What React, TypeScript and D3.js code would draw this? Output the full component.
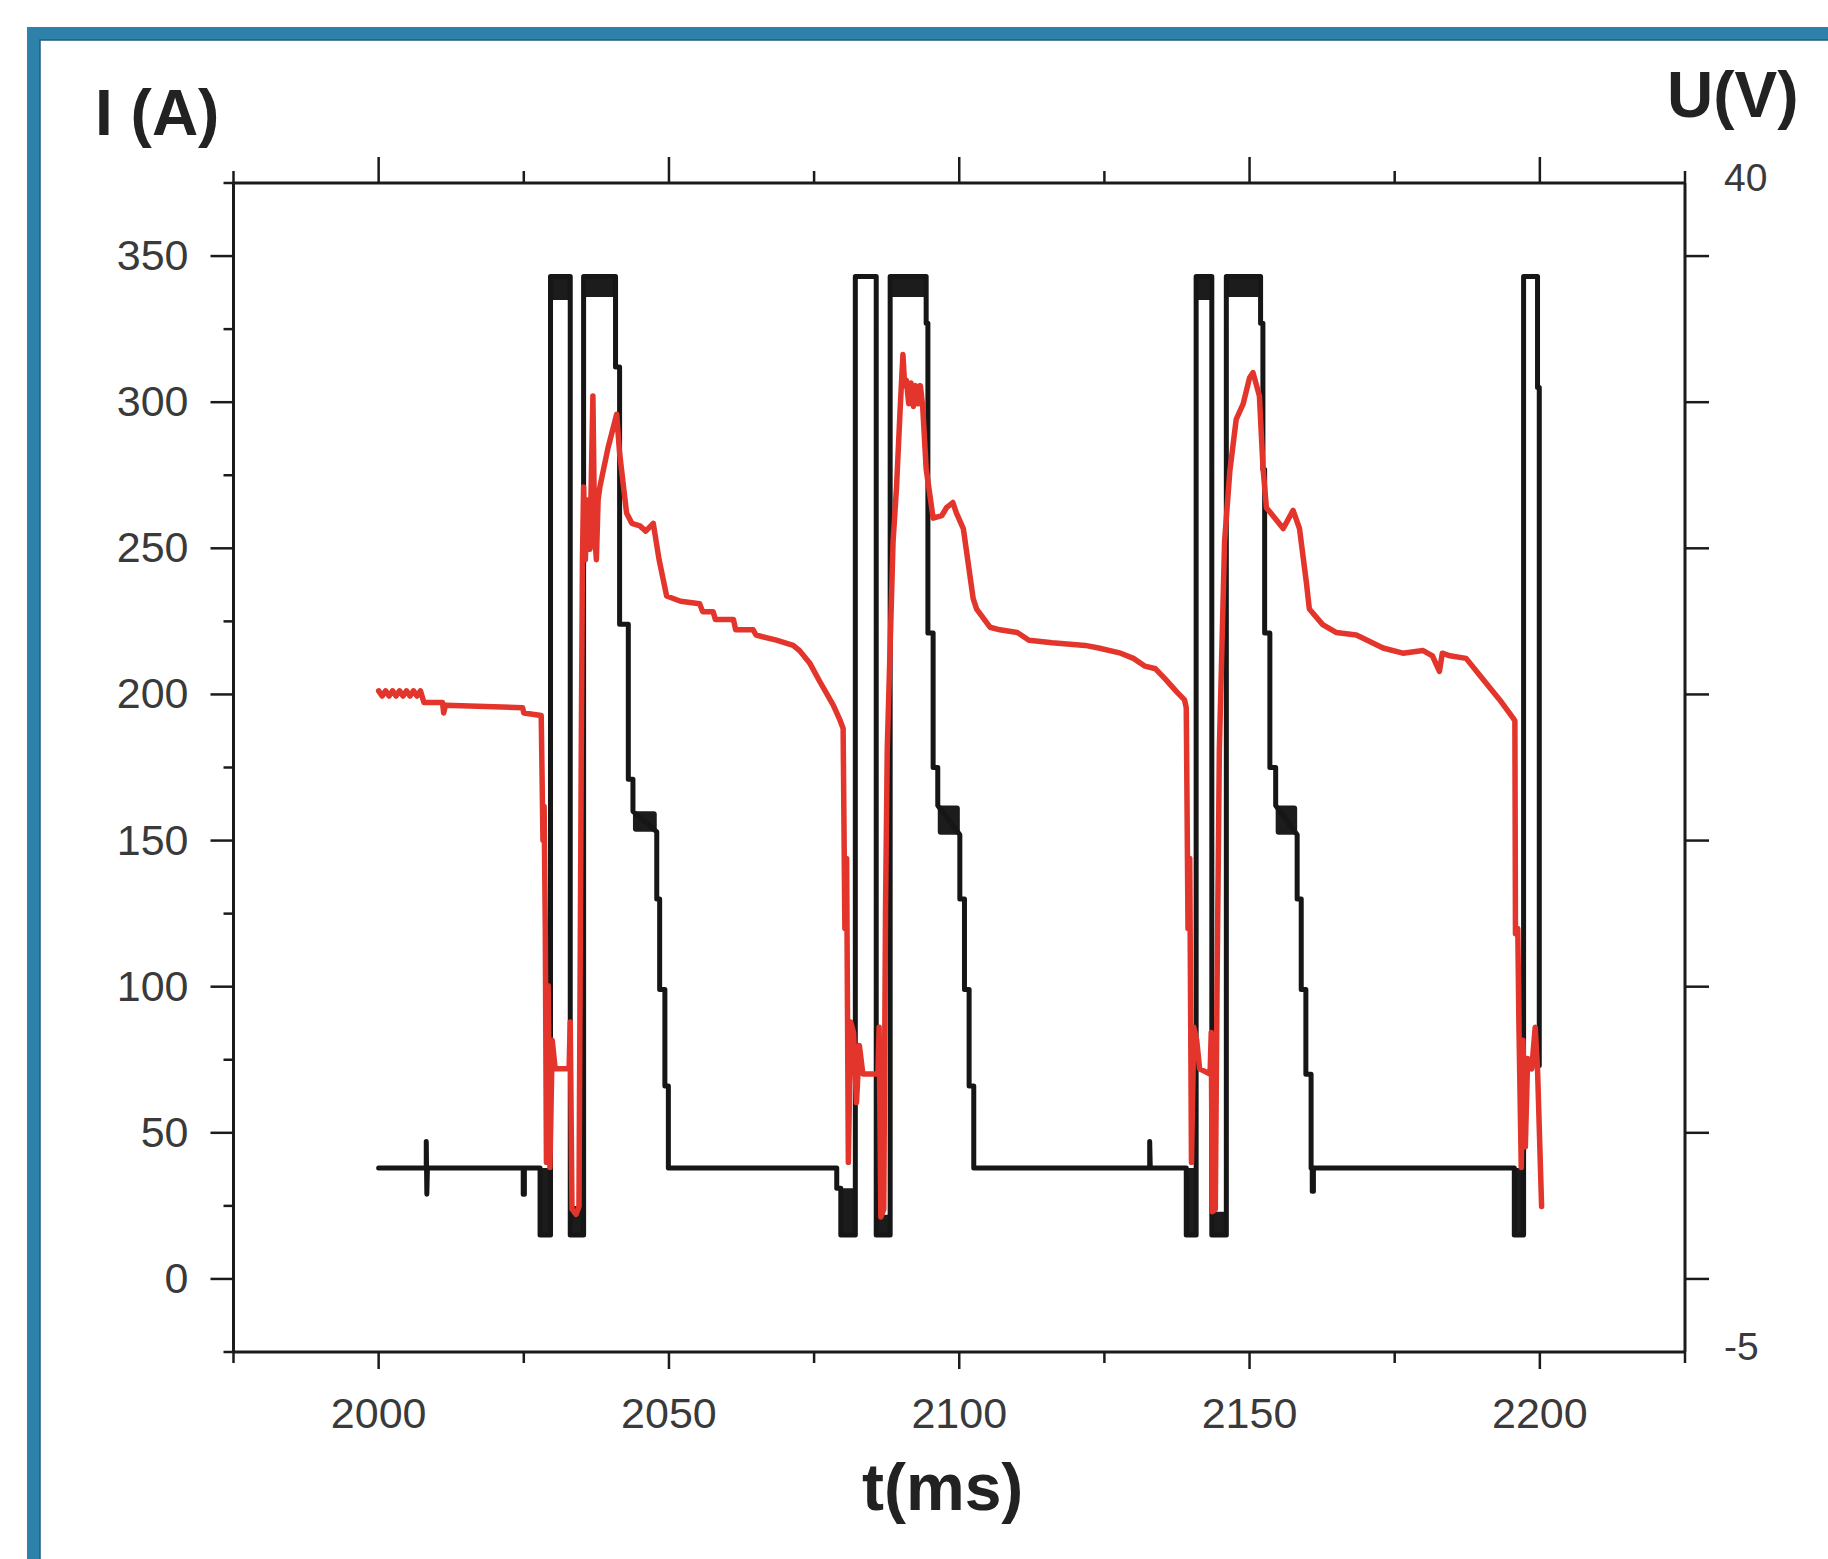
import React from 'react';
import * as d3 from 'd3';

// ---------- DATA ----------
// Time axis (ms)
const xMajorTicks = [2000, 2050, 2100, 2150, 2200];
const xMinorTicks = [1975, 2025, 2075, 2125, 2175, 2225];
// Left axis: current I (A)
const iMajorTicks = [0, 50, 100, 150, 200, 250, 300, 350];
const iMinorTicks = [-25, 25, 75, 125, 175, 225, 275, 325, 375];
// Right axis: voltage U (V), only the end values are labelled
const uTickLabels = [40, -5];

// Current I (A), black trace: [t (ms), I (A)]
const currentPoints: [number, number][] = [
  [2000, 38], [2008.2, 38], [2008.2, 47], [2008.3, 29], [2008.4, 38],
  [2024.9, 38], [2024.9, 29], [2025.1, 29], [2025.1, 38],
  [2027.8, 38], [2027.8, 15], [2029.6, 15], [2029.6, 343], [2033.0, 343], [2033.0, 15],
  [2035.3, 15], [2035.3, 343], [2040.8, 343], [2040.8, 312], [2041.5, 312], [2041.5, 224],
  [2043.0, 224], [2043.0, 171], [2043.8, 171], [2043.8, 160], [2047.9, 153], [2047.9, 130],
  [2048.4, 130], [2048.4, 99], [2049.3, 99], [2049.3, 66], [2049.9, 66], [2049.9, 38],
  [2078.9, 38], [2078.9, 31], [2079.6, 31], [2079.6, 15], [2082.1, 15], [2082.1, 343],
  [2085.7, 343], [2085.7, 15], [2088.1, 15], [2088.1, 343], [2094.3, 343], [2094.3, 327],
  [2094.6, 327], [2094.6, 221], [2095.5, 221], [2095.5, 175], [2096.3, 175], [2096.3, 162],
  [2100.1, 152], [2100.1, 130], [2100.9, 130], [2100.9, 99], [2101.7, 99], [2101.7, 66],
  [2102.5, 66], [2102.5, 38], [2132.8, 38], [2132.8, 47], [2132.9, 38],
  [2139.1, 38], [2139.1, 15], [2140.8, 15], [2140.8, 343], [2143.5, 343], [2143.5, 15],
  [2146.0, 15], [2146.0, 343], [2151.9, 343], [2151.9, 327], [2152.3, 327], [2152.3, 277],
  [2152.6, 277], [2152.6, 221], [2153.5, 221], [2153.5, 175], [2154.5, 175], [2154.5, 162],
  [2158.2, 152], [2158.2, 130], [2158.9, 130], [2158.9, 99], [2159.7, 99], [2159.7, 70],
  [2160.6, 70], [2160.6, 38], [2160.8, 38], [2160.8, 30], [2161.0, 30], [2161.0, 38],
  [2195.6, 38], [2195.6, 15], [2197.2, 15], [2197.2, 343], [2199.6, 343], [2199.6, 305],
  [2199.9, 305], [2199.9, 73],
];

// Dense-noise regions of the current trace: [t0, t1, Ilow, Ihigh]
const currentBands: [number, number, number, number][] = [
  [2027.8, 2029.7, 15, 38],
  [2029.5, 2033.1, 335, 343.5],
  [2032.9, 2035.4, 15, 25],
  [2035.2, 2040.9, 336, 343.5],
  [2043.8, 2047.9, 153, 160],
  [2079.6, 2082.1, 15, 31],
  [2085.7, 2088.2, 15, 22],
  [2088.0, 2094.4, 336, 343.5],
  [2096.3, 2100.1, 152, 162],
  [2139.1, 2140.9, 15, 38],
  [2140.7, 2143.6, 335, 343.5],
  [2143.4, 2146.0, 15, 23],
  [2145.9, 2151.9, 336, 343.5],
  [2154.5, 2158.2, 152, 162],
  [2195.6, 2197.2, 15, 38],
];

// Voltage U (V), red trace: [t (ms), U (V)]
const voltagePoints: [number, number][] = [
  [2000, 20.45], [2000.6, 20.25], [2001.2, 20.45], [2001.8, 20.25], [2002.4, 20.45], [2003.0, 20.25],
  [2003.6, 20.45], [2004.2, 20.25], [2004.8, 20.45], [2005.4, 20.25], [2006.0, 20.45], [2006.6, 20.25],
  [2007.2, 20.45], [2007.8, 20.0],
  [2011.0, 20.0], [2011.2, 19.6], [2011.5, 19.9], [2024.8, 19.8], [2025.0, 19.6], [2028.0, 19.5],
  [2028.3, 14.7], [2028.5, 16.0], [2028.7, 11.3], [2028.9, 2.3], [2029.2, 9.1], [2029.5, 2.1],
  [2029.9, 7.0], [2030.4, 5.9], [2032.8, 5.9], [2033.0, 7.7], [2033.3, 0.5], [2034.0, 0.3],
  [2034.5, 0.6], [2034.9, 18.2], [2035.1, 25.5], [2035.3, 28.3], [2035.6, 25.5], [2036.0, 27.8],
  [2036.4, 25.9], [2036.9, 31.8], [2037.2, 26.5], [2037.5, 25.5], [2037.8, 27.8], [2038.1, 28.3],
  [2039.5, 29.8], [2041.0, 31.1], [2041.5, 29.6], [2042.7, 27.3], [2043.6, 26.9], [2045.0, 26.8],
  [2046.0, 26.6], [2047.3, 26.9], [2048.3, 25.5], [2049.6, 24.1], [2052.0, 23.9], [2055.3, 23.8],
  [2055.8, 23.5], [2057.6, 23.5], [2058.0, 23.2], [2061.1, 23.2], [2061.5, 22.8], [2064.5, 22.8],
  [2065.0, 22.6], [2068.5, 22.4], [2071.4, 22.2], [2072.5, 22.0], [2074.3, 21.5], [2076.0, 20.8],
  [2078.3, 19.9], [2079.5, 19.3], [2080.0, 19.0],
  [2080.3, 11.3], [2080.6, 14.0], [2080.9, 2.3], [2081.3, 7.7], [2081.8, 7.3], [2082.3, 4.6],
  [2082.8, 6.8], [2083.4, 5.7], [2086.0, 5.7], [2086.2, 7.5], [2086.5, 0.2], [2087.0, 0.5],
  [2087.3, 12.0], [2087.6, 18.2], [2088.6, 26.2], [2089.2, 28.3], [2089.8, 31.2], [2090.3, 33.4],
  [2090.6, 32.2], [2090.9, 32.4], [2091.3, 31.5], [2091.7, 32.3], [2092.1, 31.4], [2092.5, 32.2],
  [2092.9, 31.5], [2093.3, 32.2], [2093.7, 31.4], [2094.3, 29.0], [2095.5, 27.1], [2097.0, 27.2],
  [2097.8, 27.5], [2098.9, 27.7], [2099.5, 27.3], [2100.7, 26.7], [2102.4, 24.0], [2103.0, 23.6],
  [2105.3, 22.9], [2107.0, 22.8], [2110.0, 22.7], [2112.0, 22.4], [2116.0, 22.3], [2121.7, 22.2],
  [2124.0, 22.1], [2127.8, 21.9], [2130.0, 21.7], [2132.0, 21.4], [2133.8, 21.3], [2135.5, 20.9],
  [2137.5, 20.4], [2138.8, 20.1], [2139.1, 19.8],
  [2139.4, 11.3], [2139.7, 14.0], [2140.0, 2.3], [2140.4, 7.5], [2140.9, 7.0], [2141.4, 5.9],
  [2143.2, 5.7], [2143.4, 7.3], [2143.6, 0.4], [2144.1, 0.5], [2144.4, 9.0], [2144.8, 18.2],
  [2145.7, 26.2], [2146.6, 28.9], [2147.7, 30.9], [2148.9, 31.5], [2150.0, 32.5], [2150.6, 32.7],
  [2151.7, 31.8], [2152.3, 29.1], [2152.9, 27.5], [2154.0, 27.2], [2155.8, 26.7], [2157.5, 27.4],
  [2158.6, 26.7], [2159.8, 24.6], [2160.3, 23.6], [2162.6, 23.0], [2164.9, 22.7], [2168.4, 22.6],
  [2173.0, 22.1], [2176.4, 21.9], [2179.9, 22.0], [2181.5, 21.8], [2182.7, 21.2], [2183.2, 21.9],
  [2184.5, 21.8], [2187.3, 21.7], [2190.2, 20.9], [2193.1, 20.1], [2195.4, 19.4],
  [2195.7, 19.3], [2195.8, 11.1], [2196.2, 11.3], [2196.4, 7.5], [2196.8, 2.1], [2197.1, 7.0],
  [2197.5, 2.9], [2197.9, 6.3], [2198.6, 5.9], [2199.2, 7.5], [2199.6, 5.9], [2200.3, 0.6],
];

// ---------- LAYOUT ----------
const W = 1828;
const H = 1559;
const PL = 233.5, PR = 1685, PT = 183, PB = 1352;
const FONT = "'Liberation Sans', Arial, sans-serif";

export default function App() {
  const x = d3.scaleLinear().domain([1975, 2225]).range([PL, PR]);
  const yI = d3.scaleLinear().domain([-25, 375]).range([PB, PT]);
  const yU = d3.scaleLinear().domain([-5, 40]).range([PB, PT]);

  const lineI = d3.line<[number, number]>().x(d => x(d[0])).y(d => yI(d[1]));
  const lineU = d3.line<[number, number]>().x(d => x(d[0])).y(d => yU(d[1]));

  const axisColor = '#1b1b1b';
  const labelColor = '#3a3a3a';

  return (
    <svg width={W} height={H} viewBox={`0 0 ${W} ${H}`}
      style={{ position: 'absolute', left: 0, top: 0, background: '#fff' }}>
      <rect x={0} y={0} width={W} height={H} fill="#ffffff" />
      {/* blue frame */}
      <rect x={33.5} y={33.5} width={W + 100} height={H + 100} fill="none" stroke="#2e81a9" strokeWidth={13} />
      <rect x={40} y={40} width={W + 100} height={H + 100} fill="none" stroke="#1f5f80" strokeWidth={1.5} />

      {/* axis titles */}
      <text x={95} y={135} fontFamily={FONT} fontWeight="bold" fontSize={64} fill="#222">I (A)</text>
      <text x={1667} y={117} fontFamily={FONT} fontWeight="bold" fontSize={64} fill="#222">U(V)</text>
      <text x={862} y={1510} fontFamily={FONT} fontWeight="bold" fontSize={66} fill="#222">t(ms)</text>

      {/* frame of plot */}
      <g stroke={axisColor} strokeWidth={3} fill="none">
        <line x1={PL} y1={PT} x2={PR} y2={PT} />
        <line x1={PL} y1={PB} x2={PR} y2={PB} />
        <line x1={PL} y1={PT} x2={PL} y2={PB} />
        <line x1={PR} y1={PT} x2={PR} y2={PB} />
      </g>

      {/* bottom & top ticks */}
      <g stroke={axisColor} strokeWidth={2.5}>
        {xMajorTicks.map(t => (
          <g key={'xb' + t}>
            <line x1={x(t)} x2={x(t)} y1={PB} y2={PB + 17} />
            <line x1={x(t)} x2={x(t)} y1={PT} y2={PT - 26} />
          </g>
        ))}
        {xMinorTicks.map(t => (
          <g key={'xm' + t}>
            <line x1={x(t)} x2={x(t)} y1={PB} y2={PB + 11} />
            <line x1={x(t)} x2={x(t)} y1={PT} y2={PT - 12} />
          </g>
        ))}
        {iMajorTicks.map(v => (
          <g key={'iy' + v}>
            <line x1={PL} x2={PL - 23} y1={yI(v)} y2={yI(v)} />
            <line x1={PR} x2={PR + 24} y1={yI(v)} y2={yI(v)} />
          </g>
        ))}
        {iMinorTicks.map(v => (
          <line key={'im' + v} x1={PL} x2={PL - 10} y1={yI(v)} y2={yI(v)} />
        ))}
      </g>

      {/* tick labels */}
      <g fontFamily={FONT} fontSize={43} fill={labelColor}>
        {xMajorTicks.map(t => (
          <text key={'xl' + t} x={x(t)} y={PB + 76} textAnchor="middle">{t}</text>
        ))}
        {iMajorTicks.map(v => (
          <text key={'il' + v} x={PL - 45} y={yI(v) + 14} textAnchor="end">{v}</text>
        ))}
      </g>
      <g fontFamily={FONT} fontSize={39} fill={labelColor}>
        {uTickLabels.map(u => (
          <text key={'ul' + u} x={PR + 39} y={yU(u) + 8} textAnchor="start">{u}</text>
        ))}
      </g>

      {/* current trace (black) */}
      <g fill="#1c1c1c">
        {currentBands.map((b, i) => (
          <rect key={'band' + i} x={x(b[0])} width={x(b[1]) - x(b[0])}
            y={yI(b[3])} height={yI(b[2]) - yI(b[3])} rx={3} />
        ))}
      </g>
      <path d={lineI(currentPoints) || ''} fill="none" stroke="#161616" strokeWidth={5}
        strokeLinejoin="round" strokeLinecap="round" />

      {/* voltage trace (red) */}
      <path d={lineU(voltagePoints) || ''} fill="none" stroke="#e3352b" strokeWidth={5.5}
        strokeLinejoin="round" strokeLinecap="round" />
    </svg>
  );
}
